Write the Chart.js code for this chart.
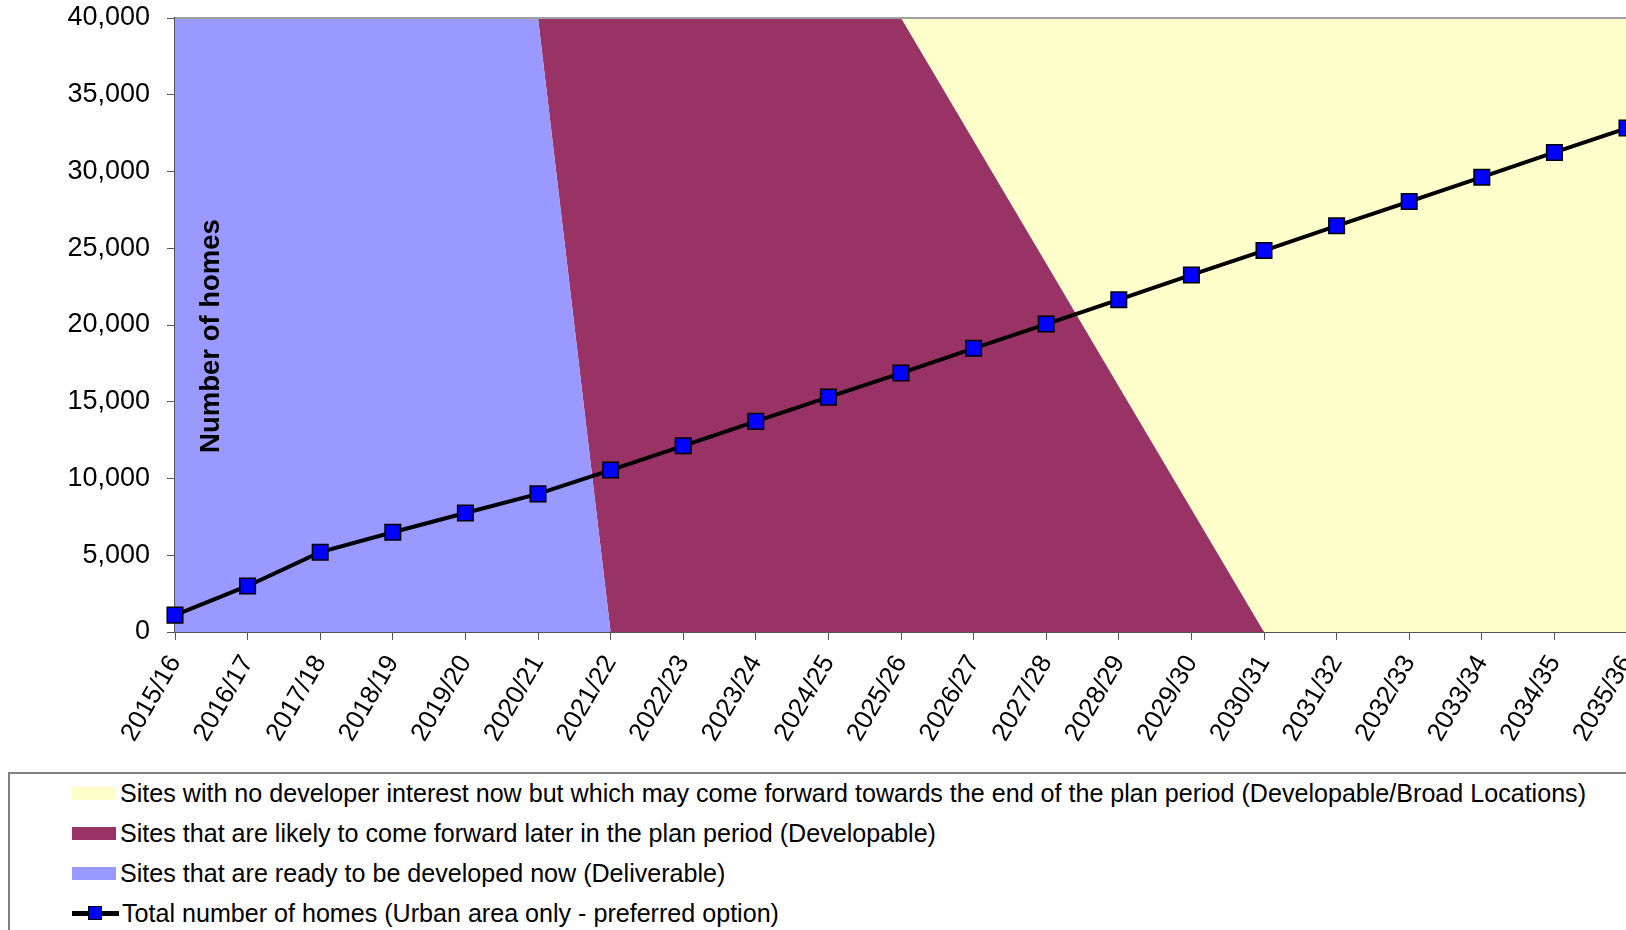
<!DOCTYPE html>
<html>
<head>
<meta charset="utf-8">
<title>Housing trajectory</title>
<script src="https://cdn.jsdelivr.net/npm/chart.js@4/dist/chart.umd.min.js"></script>
<style>
    html, body { margin: 0; padding: 0; background: #fff; overflow: hidden; width: 1626px; height: 930px; }
    #wrap { position: absolute; left: 0; top: 0; width: 1700px; height: 770px; }
    #legend { position: absolute; left: 8px; top: 772px; width: 1700px; height: 180px; box-sizing: border-box;
              border: 2px solid #808080; font-family: 'Liberation Sans', Arial, sans-serif; font-size: 25.1px; color: #000; }
    .item { position: absolute; left: 62px; height: 40px; display: flex; align-items: center; white-space: nowrap; }
    .swatch { width: 44px; height: 13px; margin-right: 4px; }
    .lineSwatch { position: relative; width: 47px; height: 15px; margin-right: 3px; }
    .lineSwatch .bar { position: absolute; left: 0; right: 0; top: 5px; height: 5px; background: #000; }
    .lineSwatch .mark { position: absolute; left: 16px; top: 0; width: 12px; height: 12px; background: #0000ff; border: 1.5px solid #000; }
</style>
</head>
<body>
<div id="wrap"><canvas id="chart"></canvas></div>
<div id="legend"></div>
<script>
    // ---------------------------------------------------------------- data
    const years = ['2015/16', '2016/17', '2017/18', '2018/19', '2019/20', '2020/21', '2021/22',
                   '2022/23', '2023/24', '2024/25', '2025/26', '2026/27', '2027/28', '2028/29',
                   '2029/30', '2030/31', '2031/32', '2032/33', '2033/34', '2034/35', '2035/36'];
    const totalHomes = [1100, 3000, 5200, 6500, 7750, 9000, 10550, 12130, 13720, 15300, 16870,
                        18480, 20060, 21650, 23260, 24850, 26460, 28040, 29630, 31240, 32830];
    // stacked bands (sum = 40,000)
    const deliverable = [40000, 40000, 40000, 40000, 40000, 40000, 0, 0, 0, 0, 0,
                         0, 0, 0, 0, 0, 0, 0, 0, 0, 0];
    const developable = [0, 0, 0, 0, 0, 0, 40000, 40000, 40000, 40000, 40000,
                         32000, 24000, 16000, 8000, 0, 0, 0, 0, 0, 0];
    const broadLocations = [0, 0, 0, 0, 0, 0, 0, 0, 0, 0, 0,
                            8000, 16000, 24000, 32000, 40000, 40000, 40000, 40000, 40000, 40000];
    const yMin = 0, yMax = 40000, yStep = 5000;

    const labels = {
        deliverable: 'Sites that are ready to be developed now (Deliverable)',
        developable: 'Sites that are likely to come forward later in the plan period (Developable)',
        broad: 'Sites with no developer interest now but which may come forward towards the end of the plan period (Developable/Broad Locations)',
        total: 'Total number of homes (Urban area only - preferred option)'
    };
    const yTitle = 'Number of homes';

    // ---------------------------------------------------------------- chart
    Chart.defaults.font.family = "'Liberation Sans', Arial, sans-serif";
    Chart.defaults.color = '#000';

    // gray plot border (top edge) + axis title inside the plot
    const plotExtras = {
        id: 'plotExtras',
        afterDatasetsDraw(chart) {
            const {ctx, chartArea: a} = chart;
            ctx.save();
            ctx.strokeStyle = '#a0a0a0';
            ctx.lineWidth = 2;
            ctx.beginPath();
            ctx.moveTo(a.left, a.top);
            ctx.lineTo(a.right, a.top);
            ctx.lineTo(a.right, a.bottom);
            ctx.stroke();
            ctx.translate(a.left + 36, (a.top + a.bottom) / 2 + 11);
            ctx.rotate(-Math.PI / 2);
            ctx.font = "bold 27.5px 'Liberation Sans', Arial, sans-serif";
            ctx.fillStyle = '#000';
            ctx.textAlign = 'center';
            ctx.textBaseline = 'middle';
            ctx.fillText(yTitle, 0, 0);
            ctx.restore();
        }
    };

    const chart = new Chart(document.getElementById('chart'), {
        type: 'line',
        data: {
            labels: years,
            datasets: [{
                label: labels.deliverable,
                data: deliverable,
                stack: 'sites',
                order: 1,
                backgroundColor: '#9999ff',
                borderWidth: 0,
                pointRadius: 0,
                fill: 'origin'
            }, {
                label: labels.developable,
                data: developable,
                stack: 'sites',
                order: 1,
                backgroundColor: '#993366',
                borderWidth: 0,
                pointRadius: 0,
                fill: '-1'
            }, {
                label: labels.broad,
                data: broadLocations,
                stack: 'sites',
                order: 1,
                backgroundColor: '#ffffcc',
                borderWidth: 0,
                pointRadius: 0,
                fill: '-1'
            }, {
                label: labels.total,
                data: totalHomes,
                stack: 'homes',
                order: 0,
                borderColor: '#000',
                borderWidth: 4,
                pointStyle: 'rect',
                pointRadius: 11,
                pointBackgroundColor: '#0000ff',
                pointBorderColor: '#000',
                pointBorderWidth: 1.5,
                fill: false
            }]
        },
        options: {
            responsive: true,
            maintainAspectRatio: false,
            animation: false,
            layout: { padding: { left: 0, top: 18, right: 73, bottom: 0 } },
            plugins: { legend: { display: false }, tooltip: { enabled: false } },
            scales: {
                x: {
                    offset: false,
                    grid: { drawOnChartArea: false, drawTicks: true, tickLength: 8, color: '#555' },
                    border: { color: '#555', width: 2 },
                    ticks: { autoSkip: false, minRotation: 60, maxRotation: 60, padding: 10, font: { size: 26 } },
                    afterFit(s) { s.height = 138; }
                },
                y: {
                    stacked: true,
                    min: yMin,
                    max: yMax,
                    grid: { drawOnChartArea: false, drawTicks: true, tickLength: 8, color: '#555' },
                    border: { color: '#555', width: 2 },
                    ticks: { stepSize: yStep, padding: 17, font: { size: 27 },
                             callback: v => v.toLocaleString('en-US') },
                    afterFit(s) {
                        s.width = 175;
                        s.paddingTop = 0;
                        s.paddingBottom = 0;
                    }
                }
            }
        },
        plugins: [plotExtras]
    });

    // ---------------------------------------------------------------- legend
    const legendOrder = [2, 1, 0, 3];
    const legend = document.getElementById('legend');
    legendOrder.forEach((idx, row) => {
        const ds = chart.data.datasets[idx];
        const item = document.createElement('div');
        item.className = 'item';
        item.style.top = (row * 40 - 1) + 'px';
        if (ds.stack === 'homes') {
            item.innerHTML = '<span class="lineSwatch"><span class="bar"></span><span class="mark"></span></span>';
        } else {
            item.innerHTML = `<span class="swatch" style="background:${ds.backgroundColor}"></span>`;
        }
        item.appendChild(document.createTextNode(ds.label));
        legend.appendChild(item);
    });
</script>
</body>
</html>
